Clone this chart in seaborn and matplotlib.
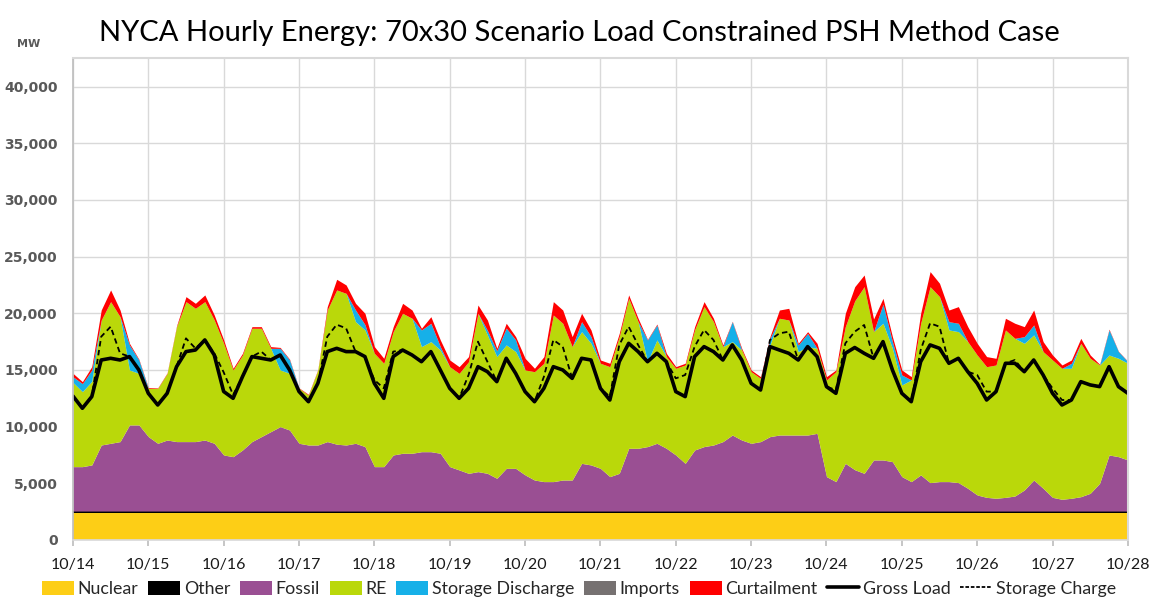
import numpy as np
import matplotlib
matplotlib.use("Agg")
import matplotlib.pyplot as plt
from matplotlib.patches import Patch
from matplotlib.lines import Line2D
import seaborn as sns

sns.set_theme(style="white")
plt.rcParams['font.family'] = ['Lato', 'DejaVu Sans']

# 3-hourly samples, 10/14 00:00 .. 10/28 00:00 (hours since start)
hours = np.arange(0, 337, 3)
day_labels = ["10/14", "10/15", "10/16", "10/17", "10/18", "10/19", "10/20",
              "10/21", "10/22", "10/23", "10/24", "10/25", "10/26", "10/27", "10/28"]

nuclear_mw = 2400
other_mw = 150

# stack levels (MW, cumulative top of each layer)
fossil_top = [
    6470, 6470, 6620, 8380, 8530, 8680, 10150, 10150,
    9120, 8530, 8820, 8680, 8680, 8680, 8820, 8530,
    7500, 7350, 7940, 8680, 9120, 9560, 10000, 9700,
    8530, 8380, 8380, 8680, 8450, 8380, 8530, 8240,
    6470, 6470, 7500, 7650, 7650, 7790, 7790, 7650,
    6470, 6180, 5880, 6030, 5880, 5440, 6320, 6320,
    5740, 5290, 5150, 5150, 5290, 5290, 6760, 6620,
    6320, 5590, 5880, 8090, 8090, 8240, 8530, 8090,
    7500, 6760, 7940, 8240, 8380, 8680, 9260, 8820,
    8530, 8680, 9120, 9260, 9260, 9260, 9260, 9410,
    5590, 5150, 6760, 6200, 5880, 7060, 7060, 6910,
    5590, 5150, 5740, 5060, 5150, 5150, 5060, 4560,
    3970, 3760, 3680, 3760, 3880, 4410, 5290, 4560,
    3760, 3590, 3680, 3820, 4120, 5000, 7500, 7350,
    7060]

re_top = [
    13900, 13090, 14000, 19400, 21030, 19700, 15000, 14700,
    13380, 13380, 14700, 18820, 21030, 20440, 21030, 19410,
    17350, 15000, 16320, 18680, 18680, 16910, 15000, 14700,
    13380, 12790, 15000, 20290, 22060, 21760, 19260, 18530,
    16470, 15590, 18380, 20000, 19560, 17060, 17500, 16760,
    15290, 14700, 15730, 20000, 18090, 16180, 17210, 16620,
    15000, 14850, 15590, 19850, 19120, 17060, 18380, 17350,
    15590, 15290, 17940, 21320, 19260, 15730, 17650, 16180,
    15150, 15440, 18530, 20590, 19260, 17060, 17500, 16760,
    14850, 14260, 17210, 19560, 19410, 16620, 17060, 16910,
    14120, 14850, 18820, 21100, 22350, 18380, 19120, 16910,
    13680, 14120, 19120, 22350, 21470, 18530, 18380, 17500,
    16320, 15290, 15440, 18530, 17790, 17350, 18090, 16620,
    15880, 15150, 15150, 17350, 16030, 15440, 16320, 16030,
    15590]

storage_top = [
    14400, 13800, 15000, 19400, 21030, 19700, 17200, 15880,
    13380, 13380, 14700, 18820, 21030, 20440, 21030, 19410,
    17350, 15000, 16320, 18680, 18680, 16910, 16910, 15880,
    13380, 12790, 15000, 20290, 22060, 21760, 20290, 19000,
    16470, 15590, 18380, 20000, 19560, 18530, 19120, 17060,
    15290, 14700, 15730, 20000, 18500, 16700, 18700, 17650,
    15000, 14850, 15590, 19850, 19120, 17060, 19260, 17940,
    15590, 15290, 17940, 21320, 19260, 17650, 18970, 16180,
    15150, 15440, 18530, 20590, 19260, 17060, 19260, 16760,
    14850, 14260, 17790, 19560, 19410, 17200, 18230, 16910,
    14120, 14850, 18820, 21100, 22350, 18380, 20800, 17500,
    14560, 14120, 19120, 22350, 21470, 19260, 19120, 17500,
    16320, 15290, 15440, 18530, 17790, 17940, 18970, 16620,
    15880, 15150, 15590, 17350, 16030, 15440, 18530, 16620,
    15730]

total_top = [
    14700, 13970, 15300, 20290, 22060, 20290, 17350, 15950,
    13450, 13420, 14750, 18900, 21470, 20880, 21620, 19850,
    17650, 15150, 16470, 18820, 18820, 17060, 16990, 15950,
    13420, 12850, 15050, 20590, 23000, 22500, 20880, 20000,
    17060, 16030, 18820, 20880, 20290, 18680, 19700, 17650,
    15880, 15290, 16180, 20730, 19410, 16910, 19120, 17940,
    16030, 15150, 16180, 21030, 20290, 17940, 20000, 18530,
    15880, 15590, 18230, 21620, 19560, 17700, 19050, 16470,
    15290, 15590, 18820, 21030, 19560, 17210, 19300, 16910,
    15000, 14410, 17940, 20290, 20440, 17350, 18380, 17350,
    14410, 15000, 20000, 22350, 23380, 19500, 21320, 17940,
    15000, 14410, 20000, 23680, 22650, 20290, 20590, 18820,
    17350, 16180, 16030, 19560, 19120, 18820, 20290, 17500,
    16320, 15440, 15880, 17790, 16320, 15500, 18600, 16650,
    15760]

gross_load = [
    12700, 11620, 12650, 15880, 16030, 15880, 16180, 15000,
    12940, 11910, 12940, 15290, 16620, 16760, 17650, 16320,
    13100, 12500, 14410, 16180, 16030, 15880, 16320, 15000,
    13100, 12200, 13820, 16620, 16910, 16620, 16620, 16180,
    13820, 12500, 16180, 16760, 16320, 15730, 16620, 15000,
    13380, 12500, 13380, 15290, 14850, 13970, 16030, 14700,
    13090, 12200, 13380, 15290, 15000, 14260, 16030, 15880,
    13380, 12350, 15730, 17350, 16620, 15730, 16470, 15730,
    13090, 12650, 16180, 17060, 16620, 15880, 17210, 15880,
    13820, 13230, 17060, 16760, 16470, 15880, 17060, 16180,
    13530, 12940, 16470, 16980, 16470, 16030, 17500, 15000,
    12940, 12200, 15730, 17210, 16910, 15590, 16030, 14850,
    13820, 12350, 13090, 15590, 15590, 14850, 15880, 14560,
    12940, 11910, 12350, 13970, 13680, 13530, 15290, 13530,
    12940]

storage_charge = [
    12700, 11620, 12650, 17940, 18820, 16470, 16180, 15000,
    12940, 11910, 12940, 15290, 17790, 16910, 17650, 16470,
    14800, 12800, 14410, 16180, 16620, 15880, 16320, 15000,
    13100, 12200, 13820, 17940, 19000, 18680, 16620, 16180,
    14120, 13380, 16620, 16760, 16320, 15730, 16620, 15000,
    13380, 12500, 14560, 17500, 15730, 13970, 16030, 14700,
    13090, 12200, 14410, 17650, 17060, 14260, 16030, 15880,
    13380, 12650, 17210, 18820, 17210, 15730, 16470, 15730,
    14260, 14560, 17060, 18530, 17650, 15880, 17210, 15880,
    13820, 13230, 17650, 18230, 18380, 15880, 17060, 16180,
    13530, 13230, 17350, 18380, 18970, 16030, 17500, 15000,
    12940, 12200, 16760, 19120, 18820, 15590, 16030, 14850,
    14560, 13090, 13090, 15590, 15880, 14850, 15880, 14560,
    13380, 12350, 12350, 13970, 13680, 13530, 15290, 13530,
    12940]

colors = {
    "Nuclear": "#FDCE16",
    "Other": "#000000",
    "Fossil": "#9A4F93",
    "RE": "#BAD80A",
    "Storage Discharge": "#16B0E8",
    "Imports": "#767171",
    "Curtailment": "#FF0000",
}

n = len(hours)
nuclear = np.full(n, nuclear_mw)
other = np.full(n, other_mw)
fossil = np.array(fossil_top) - nuclear_mw - other_mw
renew = np.array(re_top) - np.array(fossil_top)
storage = np.array(storage_top) - np.array(re_top)
imports = np.zeros(n)
curtail = np.array(total_top) - np.array(storage_top)

fig = plt.figure(figsize=(11.58, 6.04), dpi=100)
ax = fig.add_axes([0.063, 0.106, 0.911, 0.7975])

ax.stackplot(hours, nuclear, other, fossil, renew, storage, imports, curtail,
             colors=list(colors.values()), linewidth=0)
sns.lineplot(x=hours, y=gross_load, ax=ax, color="black", linewidth=2.6)
sns.lineplot(x=hours, y=storage_charge, ax=ax, color="black", linewidth=1.3,
             linestyle=(0, (3, 2)))

ax.set_xlim(0, 336)
ax.set_ylim(0, 42500)
ax.set_xticks(np.arange(0, 337, 24))
ax.set_xticklabels(day_labels, fontsize=11.5, color="#1a1a1a")
ax.set_yticks(np.arange(0, 40001, 5000))
ax.set_yticklabels([f"{v:,}" for v in range(0, 40001, 5000)],
                   family="DejaVu Sans", fontsize=10, fontweight="bold", color="#595959")
ax.grid(True, color="#D9D9D9", linewidth=1)
ax.set_axisbelow(True)
ax.tick_params(axis="x", length=4, color="#BFBFBF", pad=9, bottom=True)
ax.tick_params(axis="y", length=0, pad=11)
for side in ["top", "right"]:
    ax.spines[side].set_color("#D9D9D9")
    ax.spines[side].set_linewidth(1.5)
ax.spines["left"].set_color("#BFBFBF")
ax.spines["bottom"].set_color("#D9D9D9")
ax.set_xlabel("")
ax.set_ylabel("")

fig.text(0.5, 0.945, "NYCA Hourly Energy: 70x30 Scenario Load Constrained PSH Method Case",
         ha="center", va="center", fontsize=21, color="black")
fig.text(0.015, 0.922, "MW", fontsize=8, color="#595959", family="DejaVu Sans",
         fontweight="bold")

handles = [Patch(facecolor=c, edgecolor="none", label=k) for k, c in colors.items()]
handles.append(Line2D([0], [0], color="black", linewidth=2.6, label="Gross Load"))
handles.append(Line2D([0], [0], color="black", linewidth=1.3, linestyle=(0, (2, 1)),
                      label="Storage Charge"))
fig.legend(handles=handles, loc="center", bbox_to_anchor=(0.5, 0.025), ncol=9,
           frameon=False, fontsize=12.8, handlelength=1.8, handleheight=0.9,
           handletextpad=0.2, columnspacing=0.55)

fig.savefig("out.png", dpi=100)
